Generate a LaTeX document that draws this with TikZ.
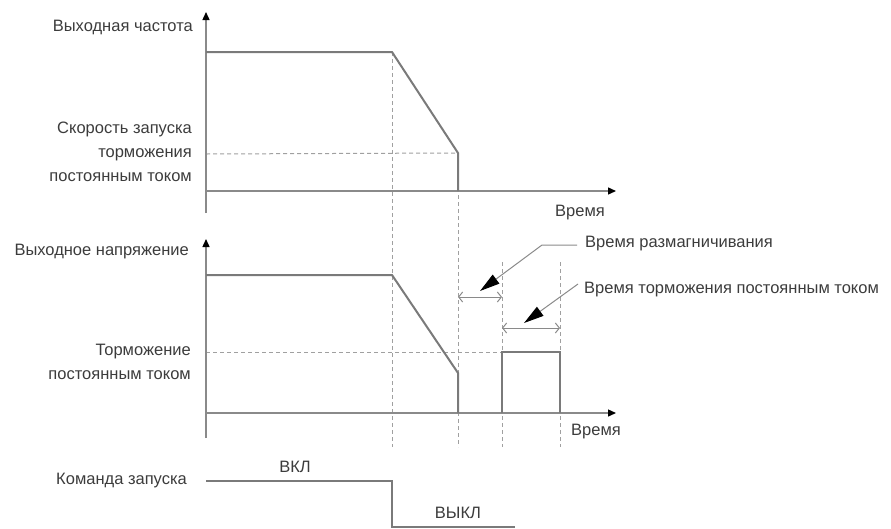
\documentclass[tikz,border=0pt]{standalone}
\usepackage{fontspec}
\setmainfont{Liberation Sans}
\usetikzlibrary{arrows.meta}
\definecolor{txtc}{HTML}{3C3C3C}
\definecolor{sigc}{HTML}{7A7A7A}
\definecolor{axc}{HTML}{8A8A8A}
\definecolor{dashc}{HTML}{A0A0A0}
\begin{document}
\begin{tikzpicture}[x=1pt,y=-1pt,
  txt/.style={text=txtc, font=\fontsize{16.5}{24}\selectfont, inner sep=0pt},
  sig/.style={draw=sigc, line width=2pt, line join=miter},
  axisline/.style={draw=axc, line width=1.4pt, -{Triangle[length=8pt,width=7pt,color=black]}},
  guide/.style={draw=dashc, line width=1pt, dash pattern=on 4pt off 3pt},
  dimline/.style={draw=axc, line width=1pt, {Straight Barb[length=4pt,width=10pt]}-{Straight Barb[length=4pt,width=10pt]}},
  lead/.style={draw=axc, line width=1pt, -{Triangle[length=20pt,width=11pt,color=black]}}
]
\useasboundingbox (0,0) rectangle (891,528);
% --- coordinates
\coordinate (o1) at (206,191);
\coordinate (y1bot) at (206,213);
\coordinate (y1top) at (206,12);
\coordinate (x1end) at (616,191);
\coordinate (o2) at (206,413);
\coordinate (y2bot) at (206,438);
\coordinate (y2top) at (206,239);
\coordinate (x2end) at (616,413);
% top signal
\coordinate (f0) at (206,52);
\coordinate (f1) at (392,52);
\coordinate (f2) at (458,153);
\coordinate (f3) at (458,191);
% middle signal
\coordinate (v0) at (206,275);
\coordinate (v1) at (392,275);
\coordinate (v2) at (458,373);
\coordinate (v3) at (458,413);
\coordinate (r0) at (502,413);
\coordinate (r1) at (502,352);
\coordinate (r2) at (560,352);
\coordinate (r3) at (560,413);
% run command
\coordinate (c0) at (206,481);
\coordinate (c1) at (392,481);
\coordinate (c2) at (392,527);
\coordinate (c3) at (515,527);
% guide ends
\coordinate (g1b) at (392,447);
\coordinate (g2b) at (458,447);
\coordinate (g3t) at (502,262);
\coordinate (g3b) at (502,447);
\coordinate (g4t) at (560,262);
\coordinate (g4b) at (560,447);
\coordinate (h1a) at (206,154);
\coordinate (h2a) at (206,352);
% dimension lines
\coordinate (d1a) at (458,297);
\coordinate (d1b) at (502,297);
\coordinate (d2a) at (502,328);
\coordinate (d2b) at (560,328);
% leaders
\coordinate (l1a) at (577,245);
\coordinate (l1b) at (542,245);
\coordinate (l1t) at (480,291);
\coordinate (l2a) at (578,284);
\coordinate (l2t) at (524,323);

% guides
\draw[guide] (f1) -- (g1b);
\draw[guide] (f2) -- (g2b);
\draw[guide] (g3t) -- (g3b);
\draw[guide] (g4t) -- (g4b);
\draw[guide] (h1a) -- (f2);
\draw[guide] (h2a) -- (r1);

% axes
\draw[axisline] (y1bot) -- (y1top);
\draw[axisline] (o1) -- (x1end);
\draw[axisline] (y2bot) -- (y2top);
\draw[axisline] (o2) -- (x2end);

% signals
\draw[sig] (f0) -- (f1) -- (f2) -- (f3);
\draw[sig] (v0) -- (v1) -- (v2) -- (v3);
\draw[sig] (r0) -- (r1) -- (r2) -- (r3);
\draw[sig] (c0) -- (c1) -- (c2) -- (c3);

% dimension arrows
\draw[dimline] (d1a) -- (d1b);
\draw[dimline] (d2a) -- (d2b);

% leaders
\draw[lead] (l1a) -- (l1b) -- (l1t);
\draw[lead] (l2a) -- (l2t);

% labels
\node[txt, anchor=east] (lf) at (193,27) {Выходная частота};
\node[txt, anchor=east, align=right] (ldc) at (192,152) {Скорость запуска\\торможения\\постоянным током};
\node[txt] (t1) at (580,213) {Время};
\node[txt, anchor=east] (lv) at (189,252) {Выходное напряжение};
\node[txt, anchor=east, align=right] (ldb) at (191,362) {Торможение\\постоянным током};
\node[txt] (t2) at (596,432) {Время};
\node[txt, anchor=west] (ldm) at (585,244) {Время размагничивания};
\node[txt, anchor=west] (ldt) at (584,290) {Время торможения постоянным током};
\node[txt, anchor=east] (lcmd) at (187,481) {Команда запуска};
\node[txt] (lon) at (295,467) {ВКЛ};
\node[txt] (loff) at (458,513) {ВЫКЛ};
\end{tikzpicture}
\end{document}
